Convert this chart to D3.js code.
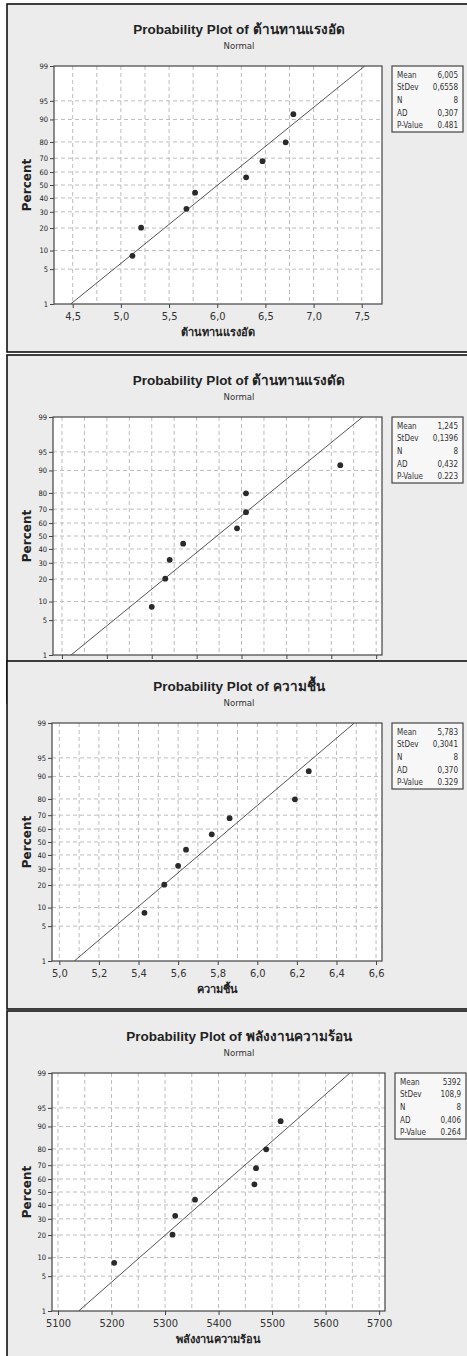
<!DOCTYPE html>
<html>
<head>
<meta charset="utf-8">
<script src="https://cdn.jsdelivr.net/npm/d3@7"></script>
<style>
  body { margin: 0; background: #fff; }
  svg { display: block; font-family: "DejaVu Sans", "Noto Sans", sans-serif; }
</style>
</head>
<body>
<div id="chart"></div>
<script>
// plotting positions (percent) shared by all four probability plots
const percents = [8.3, 20.2, 32.1, 44.0, 56.0, 67.9, 79.8, 91.7];
const percentTicks = [1, 5, 10, 20, 30, 40, 50, 60, 70, 80, 90, 95, 99];
const statLabels = ["Mean", "StDev", "N", "AD", "P-Value"];

// variable names (title + x axis)
const varNames = ["ต้านทานแรงอัด", "ต้านทานแรงดัด", "ความชื้น", "พลังงานความร้อน"];

// sorted sample values
const compressValues = [5.12, 5.21, 5.68, 5.77, 6.30, 6.47, 6.71, 6.79];
const bendValues = [1.10, 1.13, 1.14, 1.17, 1.29, 1.31, 1.31, 1.52];
const moistureValues = [5.43, 5.53, 5.60, 5.64, 5.77, 5.86, 6.19, 6.26];
const heatValues = [5205, 5314, 5319, 5356, 5467, 5470, 5489, 5516];

// fitted normal parameters (for the reference line)
const means = [6.005, 1.245, 5.783, 5392];
const stdevs = [0.6558, 0.1396, 0.3041, 108.9];

// text shown in the stats boxes
const statsCompress = ["6,005", "0,6558", "8", "0,307", "0.481"];
const statsBend = ["1,245", "0,1396", "8", "0,432", "0.223"];
const statsMoisture = ["5,783", "0,3041", "8", "0,370", "0.329"];
const statsHeat = ["5392", "108,9", "8", "0,406", "0.264"];

// x tick values
const ticksCompress = [4.5, 5.0, 5.5, 6.0, 6.5, 7.0, 7.5];
const ticksBend = [0.9, 1.0, 1.1, 1.2, 1.3, 1.4, 1.5, 1.6];
const ticksMoisture = [5.0, 5.2, 5.4, 5.6, 5.8, 6.0, 6.2, 6.4, 6.6];
const ticksHeat = [5100, 5200, 5300, 5400, 5500, 5600, 5700];

// inverse normal cdf (Acklam) used for the probability scale
function probit(p) {
  const a = [-39.69683028665376, 220.9460984245205, -275.9285104469687, 138.357751867269, -30.66479806614716, 2.506628277459239];
  const b = [-54.47609879822406, 161.5858368580409, -155.6989798598866, 66.80131188771972, -13.28068155288572];
  const c = [-0.007784894002430293, -0.3223964580411365, -2.400758277161838, -2.549732539343734, 4.374664141464968, 2.938163982698783];
  const d = [0.007784695709041462, 0.3224671290700398, 2.445134137142996, 3.754408661907416];
  const pl = 0.02425;
  let q, r;
  if (p < pl) {
    q = Math.sqrt(-2 * Math.log(p));
    return (((((c[0] * q + c[1]) * q + c[2]) * q + c[3]) * q + c[4]) * q + c[5]) /
      ((((d[0] * q + d[1]) * q + d[2]) * q + d[3]) * q + 1);
  }
  if (p > 1 - pl) {
    q = Math.sqrt(-2 * Math.log(1 - p));
    return -(((((c[0] * q + c[1]) * q + c[2]) * q + c[3]) * q + c[4]) * q + c[5]) /
      ((((d[0] * q + d[1]) * q + d[2]) * q + d[3]) * q + 1);
  }
  q = p - 0.5;
  r = q * q;
  return (((((a[0] * r + a[1]) * r + a[2]) * r + a[3]) * r + a[4]) * r + a[5]) * q /
    (((((b[0] * r + b[1]) * r + b[2]) * r + b[3]) * r + b[4]) * r + 1);
}

const W = 467, H = 1356;
const svg = d3.select("#chart").append("svg")
  .attr("width", W).attr("height", H);

const smallFont = "DejaVu Sans Condensed, DejaVu Sans, sans-serif";

// one probability plot
function drawPlot(opt) {
  const { top, left, right, domain, values, ticks, fmt, mean, sd, stats, name, showBottom, boxX } = opt;
  const g = svg.append("g").attr("transform", `translate(0,${top})`);
  const plotTop = 62, plotBottom = 300;

  g.append("rect")
    .attr("x", 7).attr("y", 0)
    .attr("width", 480).attr("height", opt.height || 348)
    .attr("fill", "#ececec").attr("stroke", "#111").attr("stroke-width", 1.6);

  const x = d3.scaleLinear().domain(domain).range([left, right]);
  const zMax = probit(0.99);
  const y = d3.scaleLinear().domain([-zMax, zMax]).range([plotBottom, plotTop]);
  const yp = (p) => y(probit(p / 100));

  // titles
  g.append("text").attr("x", 239).attr("y", 30)
    .attr("text-anchor", "middle").attr("font-size", 13.5).attr("font-weight", "bold")
    .attr("font-family", "Liberation Sans, Arial, sans-serif")
    .attr("fill", "#222").text(`Probability Plot of ${name}`);
  g.append("text").attr("x", 239).attr("y", 45)
    .attr("text-anchor", "middle").attr("font-size", 9.5).attr("fill", "#333")
    .attr("font-family", smallFont)
    .text("Normal");

  // plot background
  g.append("rect")
    .attr("x", left).attr("y", plotTop)
    .attr("width", right - left).attr("height", plotBottom - plotTop)
    .attr("fill", "#fff");

  // grid: every tick plus halfway between ticks
  const step = ticks[1] - ticks[0];
  const grid = [];
  ticks.forEach((t, i) => {
    grid.push(t);
    if (i < ticks.length - 1) grid.push(t + step / 2);
  });
  g.append("g").selectAll("line").data(grid).join("line")
    .attr("x1", (d) => x(d)).attr("x2", (d) => x(d))
    .attr("y1", plotTop).attr("y2", plotBottom)
    .attr("stroke", "#bdbdbd").attr("stroke-dasharray", "4,3");
  g.append("g").selectAll("line").data(percentTicks.slice(1, -1)).join("line")
    .attr("x1", left).attr("x2", right)
    .attr("y1", (d) => yp(d)).attr("y2", (d) => yp(d))
    .attr("stroke", "#bdbdbd").attr("stroke-dasharray", "4,3");

  // fitted line from mean / stdev
  const clip = "clip" + top;
  g.append("clipPath").attr("id", clip).append("rect")
    .attr("x", left).attr("y", plotTop).attr("width", right - left).attr("height", plotBottom - plotTop);
  g.append("line")
    .attr("clip-path", `url(#${clip})`)
    .attr("x1", x(mean - sd * zMax)).attr("y1", y(-zMax))
    .attr("x2", x(mean + sd * zMax)).attr("y2", y(zMax))
    .attr("stroke", "#555").attr("stroke-width", 1);

  // points
  g.append("g").selectAll("circle").data(values).join("circle")
    .attr("cx", (d) => x(d)).attr("cy", (d, i) => yp(percents[i]))
    .attr("r", 2.9).attr("fill", "#2a2a2a");

  // frame
  g.append("rect")
    .attr("x", left).attr("y", plotTop)
    .attr("width", right - left).attr("height", plotBottom - plotTop)
    .attr("fill", "none").attr("stroke", "#444").attr("stroke-width", 1.2);

  // y axis
  const yAxis = g.append("g").attr("transform", `translate(${left},0)`)
    .call(d3.axisLeft(y).tickValues(percentTicks.map((p) => probit(p / 100)))
      .tickFormat((d, i) => percentTicks[i]).tickSize(4).tickSizeOuter(0));
  yAxis.select(".domain").remove();
  yAxis.selectAll("line").attr("stroke", "#444");
  yAxis.selectAll("text").attr("font-size", 7.5).attr("fill", "#222")
    .attr("font-family", smallFont).attr("dx", 1);

  g.append("text")
    .attr("transform", `translate(31,${(plotTop + plotBottom) / 2}) rotate(-90)`)
    .attr("text-anchor", "middle").attr("font-size", 12).attr("font-weight", "bold")
    .attr("fill", "#222").text("Percent");

  // x axis
  const xAxis = g.append("g").attr("transform", `translate(0,${plotBottom})`)
    .call(d3.axisBottom(x).tickValues(ticks).tickFormat(fmt).tickSize(4).tickSizeOuter(0));
  xAxis.select(".domain").remove();
  xAxis.selectAll("line").attr("stroke", "#444");
  xAxis.selectAll("text").attr("font-size", 11).attr("fill", "#333")
    .attr("font-family", smallFont).attr("dy", "0.85em");

  if (showBottom) {
    g.append("text").attr("x", (left + right) / 2).attr("y", 332)
      .attr("text-anchor", "middle").attr("font-size", 11).attr("font-weight", "bold")
      .attr("fill", "#222").text(name);
  }

  // stats box
  const box = g.append("g").attr("transform", `translate(${boxX},${plotTop})`);
  box.append("rect").attr("width", 71).attr("height", 66)
    .attr("fill", "#f7f7f7").attr("stroke", "#444").attr("stroke-width", 1.2);
  box.selectAll(".lab").data(statLabels).join("text").attr("class", "lab")
    .attr("x", 5).attr("y", (d, i) => 11.5 + i * 12.7)
    .attr("font-size", 8).attr("fill", "#333")
    .attr("font-family", smallFont).text((d) => d);
  box.selectAll(".val").data(stats).join("text").attr("class", "val")
    .attr("x", 66).attr("y", (d, i) => 11.5 + i * 12.7)
    .attr("text-anchor", "end").attr("font-size", 8).attr("fill", "#333")
    .attr("font-family", smallFont).text((d) => d);
}

const comma1 = (d) => d3.format(".1f")(d).replace(".", ",");

drawPlot({ top: 4, left: 54, right: 382, boxX: 392, domain: [4.306, 7.71],
  values: compressValues, ticks: ticksCompress, fmt: comma1,
  mean: means[0], sd: stdevs[0], stats: statsCompress, name: varNames[0], showBottom: true });
drawPlot({ top: 355, left: 53, right: 382, boxX: 392, domain: [0.88, 1.613],
  values: bendValues, ticks: ticksBend, fmt: () => "",
  mean: means[1], sd: stdevs[1], stats: statsBend, name: varNames[1], showBottom: false });
drawPlot({ top: 661, left: 52, right: 382, boxX: 392, domain: [4.963, 6.63],
  values: moistureValues, ticks: ticksMoisture, fmt: comma1,
  mean: means[2], sd: stdevs[2], stats: statsMoisture, name: varNames[2], showBottom: true });
drawPlot({ top: 1011, left: 52, right: 385, boxX: 395, domain: [5088.8, 5711], height: 360,
  values: heatValues, ticks: ticksHeat, fmt: d3.format("d"),
  mean: means[3], sd: stdevs[3], stats: statsHeat, name: varNames[3], showBottom: true });
</script>
</body>
</html>
